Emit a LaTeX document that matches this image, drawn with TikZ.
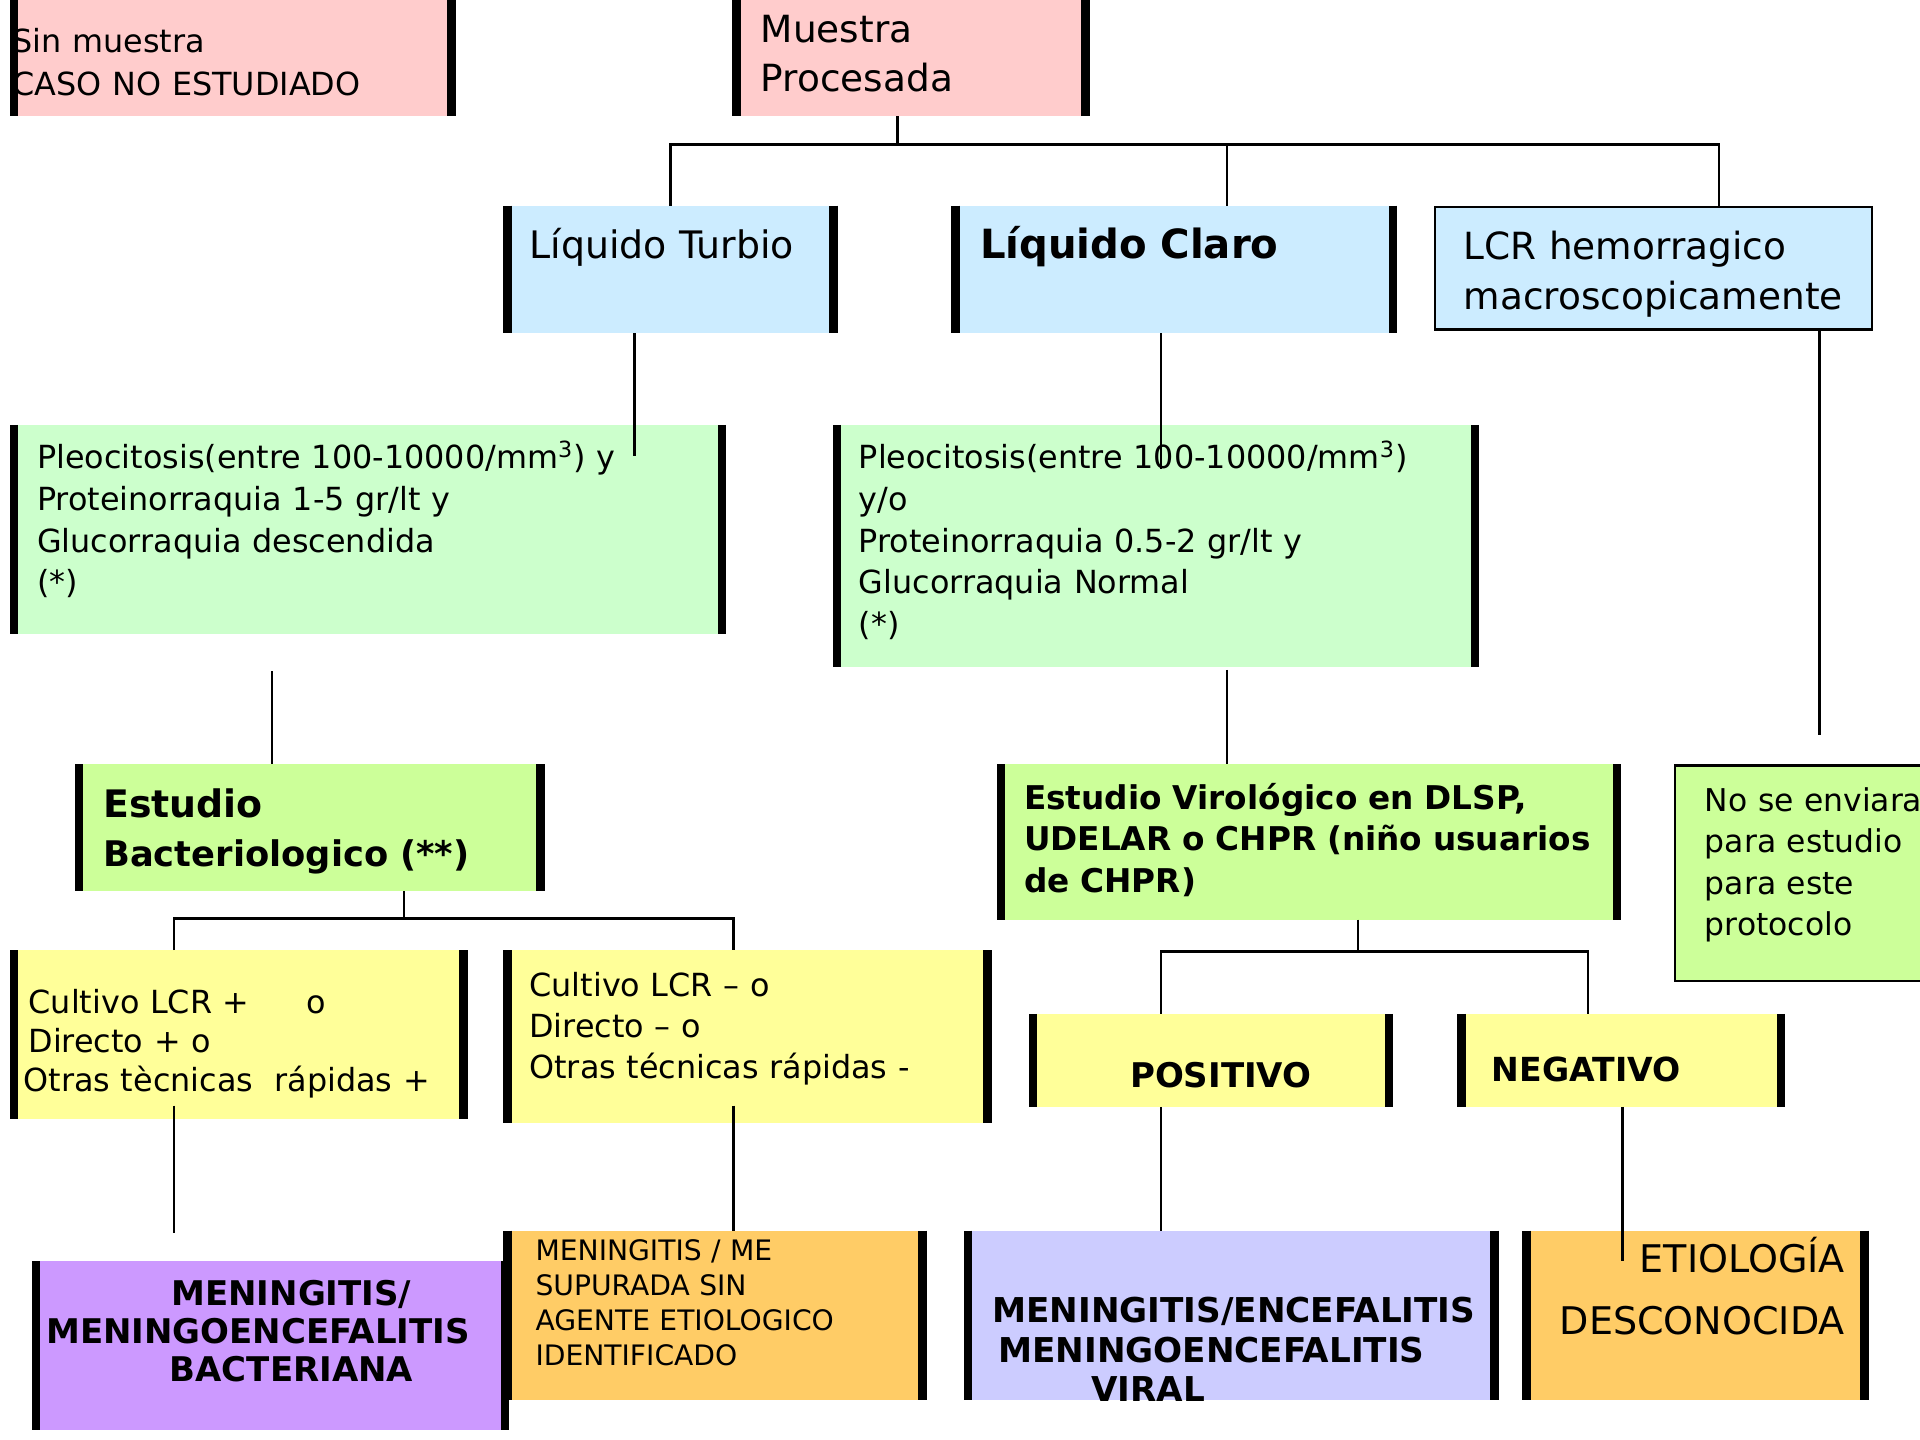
\documentclass[tikz,border=0pt]{standalone}
\usepackage{fontspec}
\setmainfont{DejaVu Sans}
\usetikzlibrary{fit}
\definecolor{boxPink}{HTML}{FFCCCC}
\definecolor{boxBlue}{HTML}{CCECFF}
\definecolor{boxGreen}{HTML}{CCFFCC}
\definecolor{boxLime}{HTML}{CCFF99}
\definecolor{boxYellow}{HTML}{FFFF99}
\definecolor{boxViolet}{HTML}{CC99FF}
\definecolor{boxOrange}{HTML}{FFCC66}
\definecolor{boxLav}{HTML}{CCCCFF}
\newcommand{\sidebars}[1]{%
  \draw[bar] ([xshift=0.07cm]#1.north west) -- ([xshift=0.07cm]#1.south west);
  \draw[bar] ([xshift=-0.07cm]#1.north east) -- ([xshift=-0.07cm]#1.south east);}
\tikzset{
  box/.style={fill=#1, inner sep=0pt, outer sep=0pt},
  framed/.style={box=#1, draw=black, line width=0.04cm},
  bar/.style={line width=0.14cm},
  link/.style={line width=0.04cm},
  txt/.style={inner sep=0pt, text width=12cm, align=left, anchor=base west},
}

\begin{document}
\begin{tikzpicture}[x=0.02cm, y=-0.02cm]
\useasboundingbox (0,0) rectangle (1568,1176);
\clip (0,0) rectangle (1568,1176);
\fill[white] (0,0) rectangle (1568,1176);
% boxes
\node[box=boxPink, fit={(8,-10) (372,95)}] (sinm) {};
\node[box=boxPink, fit={(598,-10) (890,95)}] (muestra) {};
\node[box=boxBlue, fit={(411,168) (684,272)}] (turbio) {};
\node[box=boxBlue, fit={(777,168) (1141,272)}] (claro) {};
\node[framed=boxBlue, fit={(1172,169) (1529,269)}] (hemo) {};
\node[box=boxGreen, fit={(8,347) (593,518)}] (pleoA) {};
\node[box=boxGreen, fit={(680,347) (1208,545)}] (pleoB) {};
\node[box=boxLime, fit={(61,624) (445,728)}] (bact) {};
\node[box=boxLime, fit={(814,624) (1324,751)}] (viro) {};
\node[framed=boxLime, fit={(1368,625) (1600,801)}] (noenv) {};
\node[box=boxYellow, fit={(8,776) (382,914)}] (cultpos) {};
\node[box=boxYellow, fit={(411,776) (810,917)}] (cultneg) {};
\node[box=boxYellow, fit={(840,828) (1138,904)}] (positivo) {};
\node[box=boxYellow, fit={(1190,828) (1458,904)}] (negativo) {};
\node[box=boxViolet, fit={(26,1030) (416,1168)}] (mebact) {};
\node[box=boxOrange, fit={(411,1005) (757,1143)}] (mesup) {};
\node[box=boxLav, fit={(787,1005) (1224,1143)}] (meviral) {};
\node[box=boxOrange, fit={(1243,1005) (1526,1143)}] (desconoc) {};
% texts
\node[txt, font=\fontsize{14.8pt}{19.8pt}\selectfont] (sinm-t) at (10,43) {Sin muestra\\CASO NO ESTUDIADO};
\node[txt, font=\fontsize{17.4pt}{22.4pt}\selectfont] (muestra-t) at (621,35) {Muestra\\Procesada};
\node[txt, font=\fontsize{17.6pt}{22pt}\selectfont] (turbio-t) at (432,211) {Líquido Turbio};
\node[txt, font=\fontsize{18.7pt}{23pt}\selectfont\bfseries] (claro-t) at (800,211) {Líquido Claro};
\node[txt, font=\fontsize{17.4pt}{23.2pt}\selectfont] (hemo-t) at (1195,212) {LCR hemorragico\\macroscopicamente};
\node[txt, font=\fontsize{14.8pt}{19.3pt}\selectfont] (pleoA-t) at (30,383)
  {Pleocitosis(entre 100-10000/mm\textsuperscript{3}) y\\Proteinorraquia 1-5 gr/lt y\\Glucorraquia descendida\\(*)};
\node[txt, font=\fontsize{14.8pt}{19.3pt}\selectfont] (pleoB-t) at (701,383)
  {Pleocitosis(entre 100-10000/mm\textsuperscript{3})\\y/o\\Proteinorraquia 0.5-2 gr/lt y\\Glucorraquia Normal\\(*)};
\node[txt, font=\fontsize{16.4pt}{22.7pt}\selectfont\bfseries] (bact-t) at (84,668)
  {{\fontsize{17.6pt}{22.7pt}\selectfont Estudio}\\Bacteriologico (**)};
\node[txt, font=\fontsize{15.2pt}{19.3pt}\selectfont\bfseries] (viro-t) at (836,661)
  {Estudio Virológico en DLSP,\\UDELAR o CHPR (niño usuarios\\de CHPR)};
\node[txt, font=\fontsize{14.6pt}{19.1pt}\selectfont] (noenv-t) at (1392,663) {No se enviara\\para estudio\\para este\\protocolo};
\node[txt, font=\fontsize{14.8pt}{18.1pt}\selectfont] (cultpos-t) at (23,828)
  {Cultivo LCR +\hspace{1.8em}o\\Directo + o\\\hspace*{-2.3pt}Otras tècnicas\ \ rápidas +};
\node[txt, font=\fontsize{14.8pt}{19pt}\selectfont] (cultneg-t) at (432,814)
  {Cultivo LCR – o\\Directo – o\\Otras técnicas rápidas -};
\node[txt, align=center, anchor=base, text width=9cm, font=\fontsize{15.8pt}{17.6pt}\selectfont\bfseries] (mebact-t) at (238,1066)
  {MENINGITIS/\\MENINGOENCEFALITIS\hspace{31pt}\mbox{}\\BACTERIANA};
\node[txt, font=\fontsize{13.1pt}{16.3pt}\selectfont] (mesup-t) at (437,1029)
  {MENINGITIS / ME\\SUPURADA SIN\\AGENTE ETIOLOGICO\\IDENTIFICADO};
\node[txt, align=center, anchor=base, text width=5cm, font=\fontsize{15.8pt}{18pt}\selectfont\bfseries] (positivo-t) at (997,888) {POSITIVO};
\node[txt, font=\fontsize{15.4pt}{18pt}\selectfont\bfseries] (negativo-t) at (1218,883) {NEGATIVO};
\node[txt, font=\fontsize{15.9pt}{18.4pt}\selectfont\bfseries] (meviral-t) at (810,1080)
  {MENINGITIS/ENCEFALITIS\\\hspace*{2.8pt}MENINGOENCEFALITIS\\\hspace*{46pt}VIRAL};
\node[txt, align=right, anchor=base east, text width=6cm, font=\fontsize{17.7pt}{28.9pt}\selectfont] (desconoc-t) at (1507,1039)
  {ETIOLOGÍA\\DESCONOCIDA};
% thick side bars
\foreach \b in {sinm,muestra,turbio,claro,pleoA,pleoB,bact,viro,cultpos,cultneg,positivo,negativo,mebact,mesup,meviral,desconoc}
  {\sidebars{\b}}
% connectors
\coordinate (bus1) at (733,118);
\draw[link] (muestra.south -| bus1) -- (bus1);
\draw[link] (turbio.north) |- (bus1) -| ([xshift=0.86cm]claro.north);
\draw[link] (bus1) -| ([xshift=1.07cm]hemo.north);
\coordinate (tA) at (518,372);
\coordinate (tB) at (948,383);
\coordinate (tC) at (1486,600);
\draw[link] (turbio.south -| tA) -- (tA);
\draw[link] (claro.south -| tB) -- (tB);
\draw[link] (hemo.south -| tC) -- (tC);
\coordinate (sA) at (222,548);
\coordinate (sB) at (1002,547);
\draw[link] (sA) -- (sA |- bact.north);
\draw[link] (sB) -- (sB |- viro.north);
\coordinate (bus2) at (330,750);
\draw[link] (bact.south -| bus2) -- (bus2);
\draw[link] ([xshift=-1.06cm]cultpos.north) |- (bus2) -| ([xshift=-0.23cm]cultneg.north);
\coordinate (cA) at (142,903);
\coordinate (cB) at (142,1007);
\coordinate (cC) at (599,903);
\draw[link] (cA) -- (cB);
\draw[link] (cC) -- (cC |- mesup.north);
\coordinate (bus3) at (1109,777);
\draw[link] (viro.south -| bus3) -- (bus3);
\draw[link] ([xshift=-0.82cm]positivo.north) |- (bus3) -| ([xshift=-0.54cm]negativo.north);
\coordinate (pA) at ([xshift=-0.82cm]positivo.south);
\coordinate (nA) at (1325,1030);
\draw[link] (pA) -- (pA |- meviral.north);
\draw[link] (negativo.south -| nA) -- (nA);
\end{tikzpicture}
\end{document}
